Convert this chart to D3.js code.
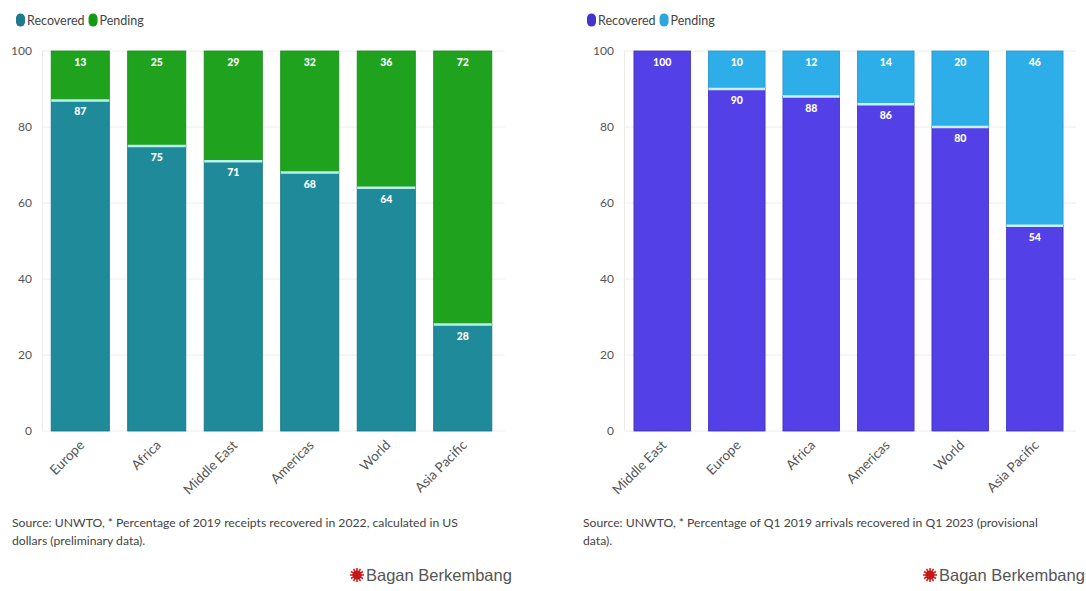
<!DOCTYPE html>
<html><head><meta charset="utf-8">
<script src="https://cdn.jsdelivr.net/npm/d3@7"></script>
<style>
body{margin:0;background:#fff;font-family:Lato,"Noto Sans",sans-serif;}
svg{display:block}
</style></head>
<body>
<svg id="c" width="1086" height="591"></svg>
<script>
// Chart 1: receipts 2022 vs 2019
const cats1 = ["Europe","Africa","Middle East","Americas","World","Asia Pacific"];
const recovered1 = [87,75,71,68,64,28];
const pending1 = [13,25,29,32,36,72];
const source1 = ["Source: UNWTO, * Percentage of 2019 receipts recovered in 2022, calculated in US","dollars (preliminary data)."];
// Chart 2: arrivals Q1 2023 vs Q1 2019
const cats2 = ["Middle East","Europe","Africa","Americas","World","Asia Pacific"];
const recovered2 = [100,90,88,86,80,54];
const pending2 = [0,10,12,14,20,46];
const source2 = ["Source: UNWTO, * Percentage of Q1 2019 arrivals recovered in Q1 2023 (provisional","data)."];
const yTicks = [0,20,40,60,80,100];
const seriesNames = ["Recovered","Pending"];
const brand = "Bagan Berkembang";

const svg = d3.select("#c");

function drawChart(o){
  const g = svg.append("g");
  const x = d3.scaleBand().domain(o.cats).range([o.x0,o.x1]).paddingInner(0.24).paddingOuter(0.12);
  const y = d3.scaleLinear().domain([0,100]).range([431,51]);
  // gridlines
  g.append("g").selectAll("line").data(yTicks).join("line")
    .attr("x1",o.gx0).attr("x2",o.gx1).attr("y1",d=>y(d)).attr("y2",d=>y(d))
    .attr("stroke","#ececec").attr("stroke-width",1);
  g.append("line").attr("x1",o.gx0+0.5).attr("x2",o.gx0+0.5).attr("y1",y(100)).attr("y2",y(0))
    .attr("stroke","#ececec");
  // y axis labels
  const ya = d3.axisLeft(y).tickValues(yTicks).tickSize(0).tickPadding(0);
  const yg = g.append("g").attr("transform",`translate(${o.gx0-10},0)`).call(ya);
  yg.select(".domain").remove();
  yg.selectAll("text").attr("fill","#555").attr("font-size","12px").attr("font-family","Lato,sans-serif");
  // bars
  const data = o.cats.map((c,i)=>({c,r:o.rec[i],p:o.pen[i]}));
  const bg = g.append("g");
  bg.selectAll("rect.rec").data(data).join("rect").attr("class","rec")
    .attr("x",d=>x(d.c)).attr("width",x.bandwidth())
    .attr("y",d=>y(d.r)).attr("height",d=>y(0)-y(d.r))
    .attr("fill",o.c1).attr("stroke",o.s1).attr("stroke-width",0.8);
  bg.selectAll("rect.pen").data(data.filter(d=>d.p>0)).join("rect").attr("class","pen")
    .attr("x",d=>x(d.c)).attr("width",x.bandwidth())
    .attr("y",d=>y(100)).attr("height",d=>y(d.r)-y(100))
    .attr("fill",o.c2).attr("stroke",o.s2).attr("stroke-width",0.8);
  // separator
  bg.selectAll("line.sep").data(data.filter(d=>d.p>0)).join("line").attr("class","sep")
    .attr("x1",d=>x(d.c)).attr("x2",d=>x(d.c)+x.bandwidth())
    .attr("y1",d=>y(d.r)).attr("y2",d=>y(d.r))
    .attr("stroke",o.sep).attr("stroke-width",2.5);
  // labels
  const lab = g.append("g").attr("font-size","10.5px").attr("font-weight","900")
    .attr("fill","#fff").attr("text-anchor","middle").attr("font-family","Lato,sans-serif");
  lab.selectAll("text.r").data(data).join("text").attr("class","r")
    .attr("x",d=>x(d.c)+x.bandwidth()/2).attr("y",d=>y(d.r)+15).text(d=>d.r);
  lab.selectAll("text.p").data(data.filter(d=>d.p>0)).join("text").attr("class","p")
    .attr("x",d=>x(d.c)+x.bandwidth()/2).attr("y",d=>y(100)+15).text(d=>d.p);
  // x labels
  g.append("g").selectAll("text").data(o.cats).join("text")
    .attr("transform",d=>`translate(${x(d)+x.bandwidth()/2+5},${446}) rotate(-45)`)
    .attr("text-anchor","end").attr("fill","#555").attr("font-size","13.5px").text(d=>d);
  // legend
  const lg = g.append("g").attr("transform",`translate(${o.lx},20)`);
  let lx = 0;
  seriesNames.forEach((n,i)=>{
    lg.append("rect").attr("x",lx).attr("y",-6.5).attr("width",9).attr("height",13).attr("rx",4.5)
      .attr("fill",i===0?o.lc1:o.lc2);
    const t = lg.append("text").attr("x",lx+11).attr("y",4.5).attr("font-size","12.5px").attr("fill","#444").text(n);
    lx += 11 + t.node().getComputedTextLength() + 4;
  });
  // source
  g.append("g").selectAll("text").data(o.source).join("text")
    .attr("x",o.lx-4).attr("y",(d,i)=>527+i*18).attr("font-size","12.2px").attr("fill","#444").text(d=>d);
  // brand
  const bgp = g.append("g").attr("transform",`translate(${o.bx},581)`);
  const star = bgp.append("g").attr("transform","translate(0,-6)");
  for(let k=0;k<12;k++){
    const a = k*Math.PI/6;
    star.append("line").attr("x1",0).attr("y1",0).attr("x2",Math.cos(a)*7).attr("y2",Math.sin(a)*7)
      .attr("stroke","#d42020").attr("stroke-width",1.6);
  }
  star.append("circle").attr("r",4.5).attr("fill","#c41818");
  bgp.append("text").attr("x",9).attr("y",0).attr("font-family","'Liberation Sans',Arial,sans-serif")
    .attr("font-size","16.5px").attr("fill","#555").text(brand);
}

drawChart({cats:cats1,rec:recovered1,pen:pending1,source:source1,
  x0:42,x1:501,gx0:42,gx1:505,c1:"#1e8a9a",s1:"#16707e",c2:"#1fa31f",s2:"#178a17",sep:"#b8f0f0",
  lc1:"#1e7a8c",lc2:"#159a15",lx:16,bx:357});
drawChart({cats:cats2,rec:recovered2,pen:pending2,source:source2,
  x0:625,x1:1072,gx0:624,gx1:1076,c1:"#5340e6",s1:"#3f2fc0",c2:"#2eaee9",s2:"#2595c8",sep:"#c8f0ff",
  lc1:"#4533d0",lc2:"#2aa6e0",lx:587,bx:930});
</script>
</body></html>
